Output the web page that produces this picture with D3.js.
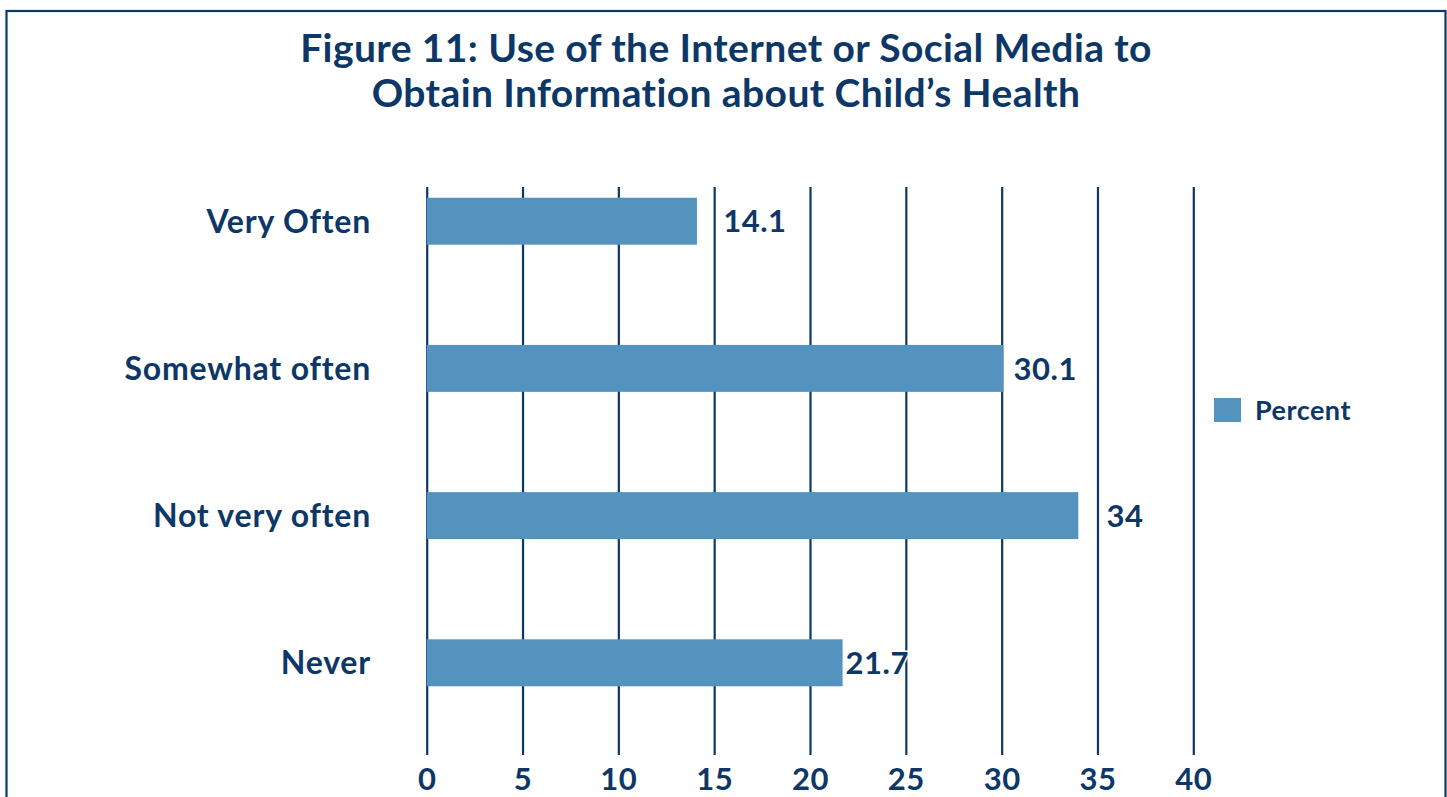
<!DOCTYPE html>
<html>
<head>
<meta charset="utf-8">
<script src="https://cdn.jsdelivr.net/npm/d3@7/dist/d3.min.js"></script>
<style>
  html, body { margin: 0; padding: 0; background: #ffffff; }
  svg { display: block; }
  text { font-family: Lato, "Open Sans", sans-serif; font-weight: 700; fill: #0d3766; }
</style>
</head>
<body>
<svg id="chart" width="1447" height="797"></svg>
<script>
// Survey responses: how often parents use the internet / social media for child health info
const categories = ["Very Often", "Somewhat often", "Not very often", "Never"];
const percents = [14.1, 30.1, 34, 21.7];
const tickValues = [0, 5, 10, 15, 20, 25, 30, 35, 40];
const titleLines = [
  "Figure 11: Use of the Internet or Social Media to",
  "Obtain Information about Child\u2019s Health"
];
const seriesName = "Percent";

const navy = "#0d3766";
const barColor = "#5393be";

const svg = d3.select("#chart");

// outer frame
svg.append("rect")
  .attr("x", 6.5).attr("y", 11)
  .attr("width", 1439).attr("height", 830)
  .attr("fill", "none")
  .attr("stroke", navy)
  .attr("stroke-width", 2.2);

// title
svg.append("g").selectAll("text")
  .data(titleLines)
  .join("text")
  .attr("x", 726)
  .attr("y", (d, i) => 62 + i * 45)
  .attr("text-anchor", "middle")
  .attr("font-size", 39)
  .attr("letter-spacing", 0.4)
  .text(d => d);

const plotTop = 187, plotBottom = 755;

const x = d3.scaleLinear().domain([0, 40]).range([426.7, 1193.3]);
const y = d3.scaleBand()
  .domain(categories)
  .range([147.6, 736.4])
  .paddingInner(0.681)
  .paddingOuter(0.3405);

// vertical gridlines + tick labels
const axis = svg.append("g")
  .attr("transform", `translate(0,${plotBottom})`)
  .call(d3.axisBottom(x)
    .tickValues(tickValues)
    .tickFormat(d3.format("d"))
    .tickSizeInner(-(plotBottom - plotTop))
    .tickSizeOuter(0)
    .tickPadding(13));
axis.select(".domain").remove();
axis.selectAll(".tick line").attr("stroke", navy).attr("stroke-width", 2.2);
axis.selectAll(".tick text")
  .attr("font-size", 31)
  .attr("letter-spacing", 0.5)
  .attr("font-family", "Lato, 'Open Sans', sans-serif")
  .attr("font-weight", 700)
  .attr("fill", navy);

// bars
svg.append("g").selectAll("rect")
  .data(categories)
  .join("rect")
  .attr("x", x(0))
  .attr("y", d => y(d))
  .attr("width", (d, i) => x(percents[i]) - x(0))
  .attr("height", y.bandwidth())
  .attr("fill", barColor);

// category labels
svg.append("g").selectAll("text")
  .data(categories)
  .join("text")
  .attr("x", 371)
  .attr("y", d => y(d) + y.bandwidth() / 2)
  .attr("dy", "0.36em")
  .attr("text-anchor", "end")
  .attr("font-size", 32)
  .attr("letter-spacing", 0.8)
  .text(d => d);

// value labels: placed after the bar end, nudged off any gridline they would cross
const gridXs = tickValues.map(v => x(v));
const valueLabels = svg.append("g").selectAll("text")
  .data(categories)
  .join("text")
  .attr("y", d => y(d) + y.bandwidth() / 2)
  .attr("dy", "0.36em")
  .attr("font-size", 31)
  .attr("letter-spacing", 0.5)
  .attr("stroke", "#ffffff")
  .attr("stroke-width", 3)
  .attr("paint-order", "stroke")
  .text((d, i) => d3.format("~f")(percents[i]));

valueLabels.each(function(d, i) {
  const el = d3.select(this);
  const w = this.getComputedTextLength();
  const barEnd = x(percents[i]);
  let x0 = barEnd + 10;
  const g = gridXs.find(gx => gx > x0 - 3 && gx < x0 + w + 3);
  if (g !== undefined) {
    if (g - x0 < w / 2) x0 = g + 9;
    else x0 = Math.max(barEnd + 3, g - 4 - w);
  }
  el.attr("x", x0);
});

// legend
const legend = svg.append("g").attr("transform", "translate(1214,398)");
legend.append("rect")
  .attr("width", 27).attr("height", 24)
  .attr("fill", barColor);
legend.append("text")
  .attr("x", 41).attr("y", 12)
  .attr("dy", "0.36em")
  .attr("font-size", 27)
  .attr("letter-spacing", 0.5)
  .text(seriesName);
</script>
</body>
</html>
